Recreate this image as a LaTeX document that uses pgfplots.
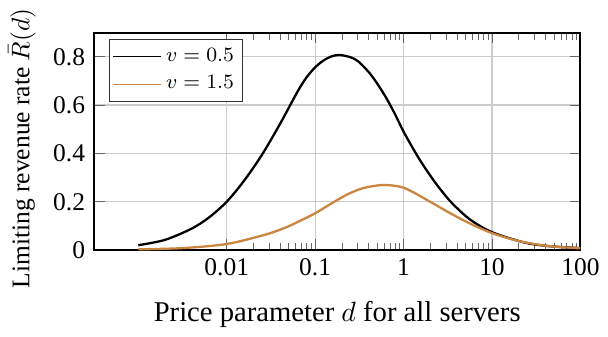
\documentclass[border=0pt]{standalone}
\usepackage{pgfplots}
\pgfplotsset{compat=1.18}
\usepackage{fontspec}
\setmainfont{Liberation Serif}
\definecolor{myorange}{RGB}{204,133,62}
\begin{document}
\begin{tikzpicture}
\begin{axis}[
  width=191pt, height=85.4pt, scale only axis,
  xmode=log, log basis x=10,
  xmin=3.16e-4, xmax=100,
  ymin=0, ymax=0.9,
  xtick={0.01,0.1,1,10,100},
  xticklabels={0.01,0.1,1,10,100},
  minor xtick={0.02,0.03,0.04,0.05,0.06,0.07,0.08,0.09,0.2,0.3,0.4,0.5,0.6,0.7,0.8,0.9,2,3,4,5,6,7,8,9,20,30,40,50,60,70,80,90},
  ytick={0,0.2,0.4,0.6,0.8},
  yticklabels={0,0.2,0.4,0.6,0.8},
  grid=major,
  major grid style={gray!40, line width=0.5pt},
  axis line style={line width=0.8pt},
  tick style={gray!80!black},
  xlabel={Price parameter $d$ for all servers},
  xlabel style={font=\fontsize{11.25}{13}\selectfont, yshift=-3pt},
  ylabel={Limiting revenue rate $\bar{R}(d)$},
  ylabel style={at={(ticklabel cs:0.468)}},
  /pgf/number format/assume math mode=true,
  legend style={at={(0.03,0.97)}, anchor=north west, draw=black!80, font=\footnotesize, inner sep=1.5pt},
  legend cell align=left,
  legend image code/.code={\draw[#1, line width=0.4pt] (0cm,0cm) -- (0.65cm,0cm);},
]
\addplot[black, line width=0.9pt, smooth] coordinates {
(0.001,0.02) (0.002,0.042) (0.00398,0.088) (0.00631,0.135) (0.01,0.20)
(0.0158,0.288) (0.0251,0.395) (0.0398,0.52) (0.0631,0.655) (0.0794,0.713)
(0.1,0.756) (0.126,0.786) (0.158,0.803) (0.191,0.807) (0.251,0.798)
(0.309,0.78) (0.407,0.735) (0.501,0.69) (0.631,0.632) (0.794,0.565)
(1.0,0.49) (1.43,0.39) (1.84,0.328)
(2.38,0.27) (3.47,0.197) (5.62,0.127) (10,0.074) (23.4,0.031)
(44.7,0.016) (100,0.008)
};
\addlegendentry{$v=0.5$}
\addplot[myorange, line width=0.9pt, smooth] coordinates {
(0.001,0.003) (0.00316,0.008) (0.01,0.025) (0.0263,0.062) (0.0407,0.085)
(0.0513,0.10) (0.0676,0.121) (0.1,0.152) (0.158,0.196) (0.24,0.233)
(0.355,0.257) (0.562,0.269) (0.794,0.266) (1.0,0.258) (1.259,0.241)
(1.585,0.221) (1.84,0.207) (2.38,0.184) (3.06,0.161) (4.27,0.132)
(6.31,0.101) (10,0.070) (15.85,0.047) (23.4,0.032)
(44.7,0.016) (100,0.007)
};
\addlegendentry{$v=1.5$}
\end{axis}
\end{tikzpicture}
\end{document}
